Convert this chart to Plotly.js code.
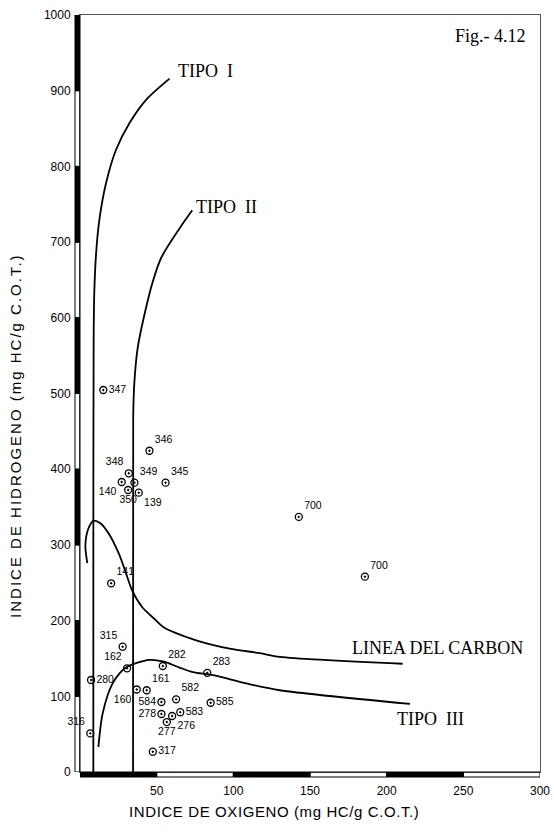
<!DOCTYPE html>
<html>
<head>
<meta charset="utf-8">
<script src="https://cdn.plot.ly/plotly-3.0.1.min.js"></script>
<style>html,body{margin:0;padding:0;background:#fff;}#chart{width:554px;height:837px;}</style>
</head>
<body>
<div id="chart"></div>
<script>
// ---- sample points (Oxygen index, Hydrogen index) ----
var sampleLabels = ["347","346","348","349","345","140","350","139","141","315","162","282","280","283","161","160","582","584","585","583","278","276","277","316","317","700","700"];
var sampleOI = [15.2,45.3,31.8,35.5,55.8,27.2,31.4,38.3,20.3,27.8,30.7,54.0,7.2,83.0,43.5,37.0,62.7,53.1,85.2,65.4,53.1,60.1,56.6,6.7,47.5,142.7,185.8];
var sampleHI = [504.6,424.4,394.6,382.2,382.2,383.1,372.5,369.0,249.3,165.5,137.0,140.0,121.5,131.0,108.0,109.0,96.0,92.5,91.5,79.0,76.6,74.0,66.0,51.0,26.8,337.0,258.0];
var labelPos = ["middle right","top right","top left","top right","top right","bottom left","bottom center","bottom right","top right","top left","top left","top right","middle right","top right","top right","bottom left","top right","middle left","middle right","middle right","middle left","bottom right","bottom center","top left","middle right","top right","top right"];

// ---- evolution curves ----
var tipo1X = [8.7,8.7,8.9,9.3,10.5,12.6,17.0,23.5,32.2,43.1,58.4];
var tipo1Y = [0,300,570,632,685,729,778,822,857,888,916];
var tipo2X = [34.6,34.7,35.5,37.6,42.0,47.5,52.9,64.9,73.2];
var tipo2Y = [0,470,516,560,604,648,679,718,742];
var carbonX = [4.8,3.5,5.2,8.9,13.3,18.7,25.2,29.6,34.0,40.5,49.2,54.0,75.8,97.6,117.2,130.3,210.4];
var carbonY = [276,298,320,332,328.5,315,289,265,240,218,201,192,174,163,157,152,143];
var tipo3X = [12.0,14.8,21.3,30.0,45.3,54.0,64.9,73.6,86.7,108.5,130.3,215.2];
var tipo3Y = [33,77.5,117,138,148,146,138,132,128,117,108,90];

// ---- axes ----
var xTicks = [0,50,100,150,200,250,300];
var yTicks = [0,100,200,300,400,500,600,700,800,900,1000];

var curveLine = {color:'#000', width:1.8, shape:'spline', smoothing:0.8};
function curve(x,y){ return {type:'scatter', mode:'lines', x:x, y:y, line:curveLine, hoverinfo:'skip', showlegend:false, cliponaxis:false}; }

var traces = [
  curve(tipo1X,tipo1Y), curve(tipo2X,tipo2Y), curve(carbonX,carbonY), curve(tipo3X,tipo3Y),
  {type:'scatter', mode:'markers+text', x:sampleOI, y:sampleHI, text:sampleLabels, textposition:labelPos,
   marker:{symbol:'circle-open-dot', size:7, color:'#000', line:{width:1.3,color:'#000'}},
   textfont:{family:'Liberation Sans, Arial, sans-serif', size:10.5, color:'#000'},
   cliponaxis:false, showlegend:false}
];

var shapes = [];
for (var i=0;i<yTicks.length-1;i++){
  shapes.push({type:'rect', xref:'paper', xsizemode:'pixel', xanchor:0, x0:-5, x1:0, yref:'y', y0:yTicks[i], y1:yTicks[i+1],
    fillcolor: (i%2===1)?'#000':'rgba(255,255,255,0)', line:{color:'#000', width:1}, layer:'above'});
}
for (var j=0;j<xTicks.length-1;j++){
  shapes.push({type:'rect', yref:'paper', ysizemode:'pixel', yanchor:0, y0:-5, y1:0, xref:'x', x0:xTicks[j], x1:xTicks[j+1],
    fillcolor: (j%2===0)?'#000':'rgba(255,255,255,0)', line:{color:'#000', width:1}, layer:'above'});
}

var serif = 'Liberation Serif, Times New Roman, serif';
var sans = 'Liberation Sans, Arial, sans-serif';
var annotations = [
  {text:'TIPO  I', x:62.7, y:926, xanchor:'left', yanchor:'middle', showarrow:false, font:{family:serif,size:18,color:'#000'}},
  {text:'TIPO  II', x:74.3, y:746.7, xanchor:'left', yanchor:'middle', showarrow:false, font:{family:serif,size:18,color:'#000'}},
  {text:'LINEA DEL CARBON', x:176, y:163.4, xanchor:'left', yanchor:'middle', showarrow:false, font:{family:serif,size:18,color:'#000'}},
  {text:'TIPO  III', x:205.4, y:69.6, xanchor:'left', yanchor:'middle', showarrow:false, font:{family:serif,size:18,color:'#000'}},
  {text:'Fig.- 4.12', x:243.1, y:972, xanchor:'left', yanchor:'middle', showarrow:false, font:{family:serif,size:18,color:'#000'}},
  {text:'<span style="letter-spacing:0.6px">INDICE DE OXIGENO (mg HC/g C.O.T.)</span>', xref:'paper', yref:'paper', x:0.4217, y:-0.0528, xanchor:'center', yanchor:'middle', showarrow:false, font:{family:sans,size:15,color:'#000'}},
  {text:'<span style="letter-spacing:2px">INDICE DE HIDROGENO (mg HC/g C.O.T.)</span>', xref:'paper', yref:'paper', x:-0.139, y:0.444, textangle:-90, xanchor:'center', yanchor:'middle', showarrow:false, font:{family:sans,size:15,color:'#000'}}
];

var axisCommon = {showline:true, mirror:true, linecolor:'#555', linewidth:1, ticks:'', showgrid:false, zeroline:false,
  tickfont:{family:sans, size:12, color:'#000'}, fixedrange:true};

var layout = {
  width:554, height:837,
  margin:{l:80, r:14, t:15, b:65, pad:0},
  paper_bgcolor:'#fff', plot_bgcolor:'#fff',
  showlegend:false,
  xaxis:Object.assign({}, axisCommon, {range:[0,300], tickvals:xTicks.slice(1), ticklabelstandoff:8}),
  yaxis:Object.assign({}, axisCommon, {range:[0,1000], tickvals:yTicks, ticklabelstandoff:6}),
  shapes:shapes,
  annotations:annotations
};

Plotly.newPlot('chart', traces, layout, {displayModeBar:false, staticPlot:true});
</script>
</body>
</html>
